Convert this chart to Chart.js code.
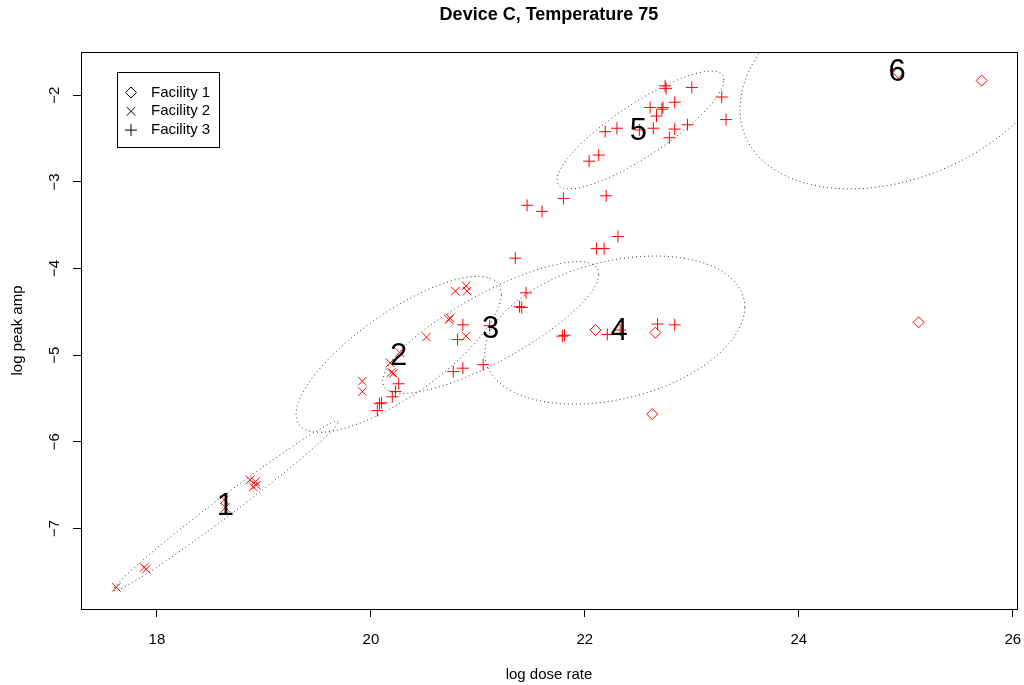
<!DOCTYPE html>
<html>
<head>
<meta charset="utf-8">
<title>Device C, Temperature 75</title>
<script src="https://cdn.jsdelivr.net/npm/chart.js@4.4.1/dist/chart.umd.min.js"></script>
<style>
  html, body { margin: 0; padding: 0; background: #fff; }
  #wrap { width: 1024px; height: 685px; }
</style>
</head>
<body>
<div id="wrap"><canvas id="plot" width="1024" height="685"></canvas></div>
<script>
const fontFamily = "'Liberation Sans', Arial, Helvetica, sans-serif";

// Facility 1 (diamonds)
const fac1X = [22.10, 22.66, 22.63, 25.12, 24.93, 25.71];
const fac1Y = [-4.71, -4.74, -5.68, -4.62, -1.74, -1.83];

// Facility 2 (x)
const fac2X = [17.62, 17.88, 17.90, 18.87, 18.92, 18.90, 18.93, 18.63, 18.64, 19.92, 19.92,
    20.18, 20.19, 20.21, 20.27, 20.52, 20.73, 20.74, 20.79, 20.89, 20.90, 20.89];
const fac2Y = [-7.68, -7.45, -7.47, -6.44, -6.46, -6.52, -6.50, -6.67, -6.76, -5.30, -5.42,
    -5.09, -5.20, -5.21, -4.97, -4.79, -4.59, -4.57, -4.26, -4.20, -4.26, -4.78];

// Facility 3 (+)
const fac3X = [20.06, 20.10, 20.08, 20.20, 20.23, 20.26, 20.77, 20.86, 21.05, 20.81, 20.86, 21.11,
    21.35, 21.45, 21.41, 21.39, 21.79, 21.81, 22.21, 22.33, 22.68, 22.84, 22.31, 22.11, 22.18,
    21.46, 21.60, 21.80, 22.20, 22.04, 22.13, 22.19, 22.30, 22.51, 22.64, 22.61, 22.67, 22.73,
    22.72, 22.75, 22.76, 22.84, 22.79, 22.84, 22.96, 23.00, 23.28, 23.32];
const fac3Y = [-5.64, -5.55, -5.56, -5.48, -5.42, -5.33, -5.19, -5.15, -5.11, -4.82, -4.65, -4.66,
    -3.88, -4.28, -4.45, -4.44, -4.78, -4.77, -4.76, -4.71, -4.64, -4.65, -3.63, -3.77, -3.77,
    -3.27, -3.34, -3.19, -3.16, -2.76, -2.69, -2.42, -2.38, -2.40, -2.38, -2.14, -2.24, -2.14,
    -2.16, -1.89, -1.92, -2.08, -2.49, -2.39, -2.34, -1.91, -2.02, -2.28];

// cluster labels
const clusterIds = ['1', '2', '3', '4', '5', '6'];
const labelX = [18.64, 20.26, 21.12, 22.32, 22.50, 24.92];
const labelY = [-6.74, -5.00, -4.69, -4.72, -2.41, -1.73];

// cluster ellipses: centre, half extent in x and y, correlation
const ellCx = [18.645, 20.26, 21.12, 22.28, 22.52, 24.94];
const ellCy = [-6.74, -4.99, -4.68, -4.71, -2.40, -1.75];
const ellSdx = [1.05, 0.96, 1.01, 1.215, 0.78, 1.49];
const ellSdy = [0.98, 0.90, 0.76, 0.855, 0.68, 1.33];
const ellRho = [0.99, 0.77, 0.81, 0.31, 0.85, 0.31];

// axis ticks
const xTicks = [18, 20, 22, 24, 26];
const yTicks = [-7, -6, -5, -4, -3, -2];

function toPoints(xs, ys) {
    return xs.map((v, i) => ({ x: v, y: ys[i] }));
}

function ellipsePoints(i) {
    const pts = [];
    const k = Math.sqrt(1 - ellRho[i] * ellRho[i]);
    for (let s = 0; s <= 160; s++) {
        const t = s / 160 * 2 * Math.PI;
        pts.push({
            x: ellCx[i] + ellSdx[i] * Math.cos(t),
            y: ellCy[i] + ellSdy[i] * (ellRho[i] * Math.cos(t) + k * Math.sin(t))
        });
    }
    return pts;
}

const pointSets = [
    { label: 'Facility 1', data: toPoints(fac1X, fac1Y), pointStyle: 'rectRot', pointRadius: 5.5 },
    { label: 'Facility 2', data: toPoints(fac2X, fac2Y), pointStyle: 'crossRot', pointRadius: 6 },
    { label: 'Facility 3', data: toPoints(fac3X, fac3Y), pointStyle: 'cross', pointRadius: 6 }
];

const datasets = pointSets.map(p => ({
    label: p.label,
    data: p.data,
    pointStyle: p.pointStyle,
    pointRadius: p.pointRadius,
    pointHoverRadius: p.pointRadius,
    borderColor: '#ff0000',
    backgroundColor: 'rgba(0,0,0,0)',
    borderWidth: 1,
    showLine: false
}));

clusterIds.forEach((id, i) => {
    datasets.push({
        label: 'ellipse ' + id,
        data: ellipsePoints(i),
        showLine: true,
        pointRadius: 0,
        borderColor: '#333333',
        borderWidth: 1,
        borderDash: [1, 3],
        fill: false,
        tension: 0
    });
});

function drawMark(ctx, style, x, y, r) {
    ctx.beginPath();
    if (style === 'rectRot') {
        ctx.moveTo(x - r, y);
        ctx.lineTo(x, y - r);
        ctx.lineTo(x + r, y);
        ctx.lineTo(x, y + r);
        ctx.closePath();
    } else if (style === 'crossRot') {
        const d = r * Math.SQRT1_2;
        ctx.moveTo(x - d, y - d);
        ctx.lineTo(x + d, y + d);
        ctx.moveTo(x - d, y + d);
        ctx.lineTo(x + d, y - d);
    } else {
        ctx.moveTo(x - r, y);
        ctx.lineTo(x + r, y);
        ctx.moveTo(x, y - r);
        ctx.lineTo(x, y + r);
    }
    ctx.stroke();
}

// box around the plot region
const frameBox = {
    id: 'frameBox',
    afterDraw(chart) {
        const a = chart.chartArea;
        const ctx = chart.ctx;
        ctx.save();
        ctx.strokeStyle = '#000';
        ctx.lineWidth = 1;
        ctx.strokeRect(Math.round(a.left) + 0.5, Math.round(a.top) + 0.5,
            Math.round(a.right - a.left), Math.round(a.bottom - a.top));
        ctx.restore();
    }
};

// big cluster numbers
const clusterText = {
    id: 'clusterText',
    afterDatasetsDraw(chart) {
        const ctx = chart.ctx;
        const xs = chart.scales.x, ys = chart.scales.y;
        ctx.save();
        ctx.font = '31px ' + fontFamily;
        ctx.fillStyle = '#000';
        ctx.textAlign = 'center';
        ctx.textBaseline = 'middle';
        clusterIds.forEach((t, i) => {
            ctx.fillText(t, xs.getPixelForValue(labelX[i]), ys.getPixelForValue(labelY[i]) + 1);
        });
        ctx.restore();
    }
};

// legend box in the top left corner
const boxLegend = {
    id: 'boxLegend',
    afterDraw(chart) {
        const ctx = chart.ctx;
        const a = chart.chartArea;
        const x0 = a.left + 36, y0 = a.top + 20;
        ctx.save();
        ctx.strokeStyle = '#000';
        ctx.lineWidth = 1;
        ctx.strokeRect(Math.round(x0) + 0.5, Math.round(y0) + 0.5, 102, 75);
        ctx.font = '15px ' + fontFamily;
        ctx.textBaseline = 'middle';
        ctx.fillStyle = '#000';
        pointSets.forEach((p, i) => {
            const cy = y0 + 20.5 + i * 18.8;
            drawMark(ctx, p.pointStyle, x0 + 14, cy, p.pointRadius);
            ctx.fillText(p.label, x0 + 34, cy);
        });
        ctx.restore();
    }
};

Chart.defaults.font.family = fontFamily;
Chart.defaults.color = '#000';

const ctx = document.getElementById('plot').getContext('2d');
const chart = new Chart(ctx, {
    type: 'scatter',
    data: { datasets: datasets },
    options: {
        responsive: false,
        animation: false,
        events: [],
        layout: { padding: { left: 0, right: 7, top: 0, bottom: 0 } },
        plugins: {
            legend: { display: false },
            tooltip: { enabled: false },
            title: {
                display: true,
                text: 'Device C, Temperature 75',
                fullSize: false,
                color: '#000',
                font: { size: 18, weight: 'bold' },
                padding: { top: 4, bottom: 26.4 }
            }
        },
        scales: {
            x: {
                type: 'linear',
                min: 17.29,
                max: 26.04,
                afterFit(scale) {
                    scale.height = 76;
                    scale.paddingLeft = 0;
                    scale.paddingRight = 0;
                },
                afterBuildTicks(scale) {
                    scale.ticks = xTicks.map(v => ({ value: v }));
                },
                grid: { display: true, drawOnChartArea: false, drawTicks: true, tickLength: 8, color: '#000' },
                border: { display: true, color: '#000' },
                ticks: {
                    includeBounds: false,
                    stepSize: 2,
                    maxRotation: 0,
                    autoSkip: false,
                    padding: 14,
                    font: { size: 15 }
                },
                title: {
                    display: true,
                    text: 'log dose rate',
                    font: { size: 15 },
                    padding: { top: 0, bottom: 1 }
                }
            },
            y: {
                type: 'linear',
                min: -7.93,
                max: -1.50,
                afterFit(scale) {
                    scale.width = 81;
                    scale.paddingTop = 0;
                    scale.paddingBottom = 0;
                },
                afterBuildTicks(scale) {
                    scale.ticks = yTicks.map(v => ({ value: v }));
                },
                grid: { display: true, drawOnChartArea: false, drawTicks: true, tickLength: 8, color: '#000' },
                border: { display: true, color: '#000' },
                ticks: {
                    includeBounds: false,
                    stepSize: 1,
                    minRotation: 90,
                    maxRotation: 90,
                    crossAlign: 'center',
                    padding: 9.5,
                    font: { size: 15 },
                    callback: v => String(v).replace('-', '\u2212')
                },
                title: {
                    display: true,
                    text: 'log peak amp',
                    font: { size: 15 },
                    padding: { top: 9, bottom: 0 }
                }
            }
        }
    },
    plugins: [frameBox, clusterText, boxLegend]
});
</script>
</body>
</html>
